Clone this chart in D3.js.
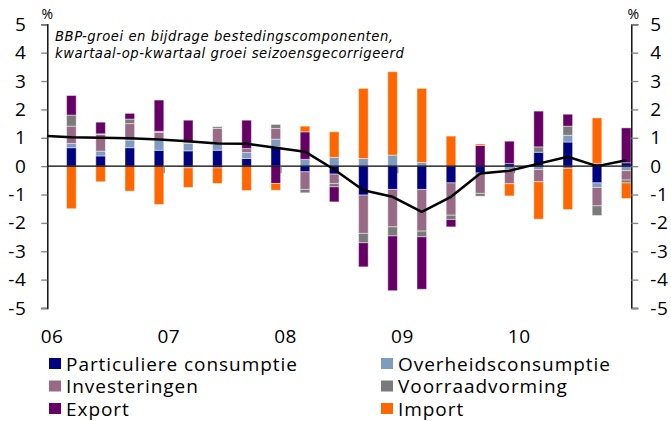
<!DOCTYPE html>
<html>
<head>
  <meta charset="utf-8">
  <title>BBP-groei en bijdrage bestedingscomponenten</title>
  <script src="https://cdnjs.cloudflare.com/ajax/libs/d3/7.8.5/d3.min.js"></script>
  <style>
    body { margin: 0; background: #fff; }
    text { font-family: "Open Sans", sans-serif; fill: #000; }
  </style>
</head>
<body>
<script>
var width = 671, height = 421;

// kwartalen 2006K1 .. 2010K4
var quarters = ["06K1","06K2","06K3","06K4","07K1","07K2","07K3","07K4",
                "08K1","08K2","08K3","08K4","09K1","09K2","09K3","09K4",
                "10K1","10K2","10K3","10K4"];
var years = ["06","07","08","09","10"];
var yearStart = ["06K1","07K1","08K1","09K1","10K1"];
var yTicks = [-5,-4,-3,-2,-1,0,1,2,3,4,5];

// bijdragen (procentpunt)
var particuliere = [0.65,0.36,0.65,0.56,0.54,0.56,0.27,0.68,-0.20,-0.28,-1.02,-0.82,-0.82,-0.59,-0.24,0.09,0.49,0.85,-0.59,0.12];
var overheid     = [0.15,0.17,0.27,0.36,0.26,0.22,0.21,0.27,0.24,0.31,0.27,0.39,0.13,0.00,0.00,-0.12,-0.12,0.24,-0.16,-0.16];
var investering  = [0.61,0.59,0.58,0.27,0.03,0.55,0.14,0.38,-0.62,-0.33,-1.35,-1.32,-1.47,-1.14,-0.72,-0.50,-0.43,-0.08,-0.65,-0.33];
var voorraad     = [0.39,0.02,0.16,0.04,-0.06,0.06,0.00,0.14,-0.12,-0.12,-0.33,-0.32,-0.20,-0.15,-0.10,0.00,0.19,0.32,-0.34,-0.10];
var exportb      = [0.69,0.41,0.20,1.10,0.79,-0.06,1.00,-0.61,0.97,-0.53,-0.85,-1.93,-1.85,-0.26,0.73,0.79,1.26,0.42,0.10,1.23];
var importb      = [-1.50,-0.55,-0.88,-1.35,-0.69,-0.55,-0.86,-0.24,0.20,0.90,2.47,2.94,2.61,1.06,0.05,-0.43,-1.32,-1.45,1.60,-0.55];

// BBP-groei (lijn), plus 2005K4 waar de lijn vandaan komt
var bbp05K4 = 1.07;
var bbp = [1.02,1.00,0.98,0.94,0.88,0.80,0.79,0.65,0.51,-0.12,-0.85,-1.08,-1.61,-1.08,-0.26,-0.16,0.09,0.33,0.00,0.21];

var series = [
  {key: "pc",  name: "Particuliere consumptie", values: particuliere, color: "#000080"},
  {key: "oc",  name: "Overheidsconsumptie",     values: overheid,     color: "#7f9bbf"},
  {key: "inv", name: "Investeringen",           values: investering,  color: "#996a86"},
  {key: "vr",  name: "Voorraadvorming",         values: voorraad,     color: "#7a7a7a"},
  {key: "ex",  name: "Export",                  values: exportb,      color: "#660066"},
  {key: "im",  name: "Import",                  values: importb,      color: "#ff6600"}
];

var table = quarters.map(function(q, i) {
  var row = {q: q};
  series.forEach(function(s) { row[s.key] = s.values[i]; });
  return row;
});

var plotL = 47.3, plotR = 631.3, plotT = 24.3, plotB = 308;
var barW = 9.6;

var x = d3.scaleBand().domain(quarters).range([plotL, plotR]);
var y = d3.scaleLinear().domain([-5, 5]).range([plotB, plotT]);
var bw = x.bandwidth();
function cx(q) { return x(q) + bw - barW / 2 - 0.3; }

var svg = d3.select("body").append("svg").attr("width", width).attr("height", height);

svg.append("clipPath").attr("id", "plot")
   .append("rect").attr("x", plotL).attr("y", 0).attr("width", plotR - plotL).attr("height", height);

// gestapelde staven
var stack = d3.stack()
  .keys(series.map(function(s) { return s.key; }))
  .offset(d3.stackOffsetDiverging);

svg.append("g").selectAll("g")
   .data(stack(table))
   .join("g")
   .attr("fill", function(d, i) { return series[i].color; })
   .selectAll("rect")
   .data(function(d) { return d; })
   .join("rect")
   .attr("x", function(d) { return cx(d.data.q) - barW / 2; })
   .attr("width", barW)
   .attr("y", function(d) { return y(Math.max(d[0], d[1])); })
   .attr("height", function(d) { return Math.abs(y(d[0]) - y(d[1])); })
   .attr("stroke", "#fff")
   .attr("stroke-opacity", 0.45)
   .attr("stroke-width", 1);

// nullijn en jaarstreepjes
svg.append("line")
   .attr("x1", plotL).attr("x2", plotR)
   .attr("y1", y(0)).attr("y2", y(0))
   .attr("stroke", "#000").attr("stroke-width", 1.4);

svg.append("g").selectAll("line")
   .data(yearStart.slice(1))
   .join("line")
   .attr("x1", function(d) { return x(d); }).attr("x2", function(d) { return x(d); })
   .attr("y1", y(0)).attr("y2", y(0) + 7)
   .attr("stroke", "#808080").attr("stroke-width", 1.4);

// BBP-lijn
var pts = [[cx(quarters[0]) - bw, bbp05K4]].concat(quarters.map(function(q, i) { return [cx(q), bbp[i]]; }));
svg.append("path")
   .datum(pts)
   .attr("clip-path", "url(#plot)")
   .attr("fill", "none")
   .attr("stroke", "#000")
   .attr("stroke-width", 2.5)
   .attr("stroke-linejoin", "round")
   .attr("d", d3.line().x(function(d) { return d[0]; }).y(function(d) { return y(d[1]); }));

// assen
var axL = svg.append("g").attr("transform", "translate(" + plotL + ",0)")
   .call(d3.axisLeft(y).tickValues(yTicks).tickSize(6).tickPadding(15).tickFormat(d3.format("d")));
var axR = svg.append("g").attr("transform", "translate(" + plotR + ",0)")
   .call(d3.axisRight(y).tickValues(yTicks).tickSize(7).tickPadding(12).tickFormat(d3.format("d")));
[axL, axR].forEach(function(ax) {
  ax.select(".domain").attr("stroke", "#000").attr("stroke-width", 1.4);
  ax.selectAll(".tick line").attr("stroke", "#888").attr("stroke-width", 1.4);
  ax.selectAll(".tick text").attr("font-size", 19).attr("font-family", "'Open Sans', sans-serif").attr("fill", "#000")
    .attr("letter-spacing", 0.5)
    .text(function(d) { return d < 0 ? "-" + Math.abs(d) : d; });
});
axR.selectAll(".tick text").attr("x", 19);

svg.append("text").attr("x", plotL).attr("y", 19).attr("text-anchor", "middle").attr("font-size", 14).text("%");
svg.append("text").attr("x", plotR + 2).attr("y", 19).attr("text-anchor", "middle").attr("font-size", 14).text("%");

// titel
var title = ["BBP-groei en bijdrage bestedingscomponenten,", "kwartaal-op-kwartaal groei seizoensgecorrigeerd"];
svg.append("g").selectAll("text")
   .data(title)
   .join("text")
   .attr("x", 55)
   .attr("y", function(d, i) { return 40.5 + i * 17.5; })
   .attr("font-style", "italic")
   .attr("font-size", 13.2)
   .attr("letter-spacing", 0.55)
   .style("font-family", "'DejaVu Sans', sans-serif")
   .text(function(d) { return d; });

// jaarlabels
svg.append("g").selectAll("text")
   .data(years)
   .join("text")
   .attr("x", function(d, i) { return x(yearStart[i]) + 4.7; })
   .attr("y", 343)
   .attr("text-anchor", "middle")
   .attr("font-size", 19)
   .attr("letter-spacing", 0.5)
   .text(function(d) { return d; });

// legenda
var leg = svg.append("g").selectAll("g")
   .data(series)
   .join("g")
   .attr("transform", function(d, i) {
     return "translate(" + (i % 2 === 0 ? 49 : 381) + "," + (358 + Math.floor(i / 2) * 22.5) + ")";
   });
leg.append("rect").attr("width", 12).attr("height", 11).attr("fill", function(d) { return d.color; });
leg.append("text").attr("x", 17).attr("y", 12.5).attr("font-size", 19).attr("letter-spacing", 0.95)
   .text(function(d) { return d.name; });
</script>
</body>
</html>
